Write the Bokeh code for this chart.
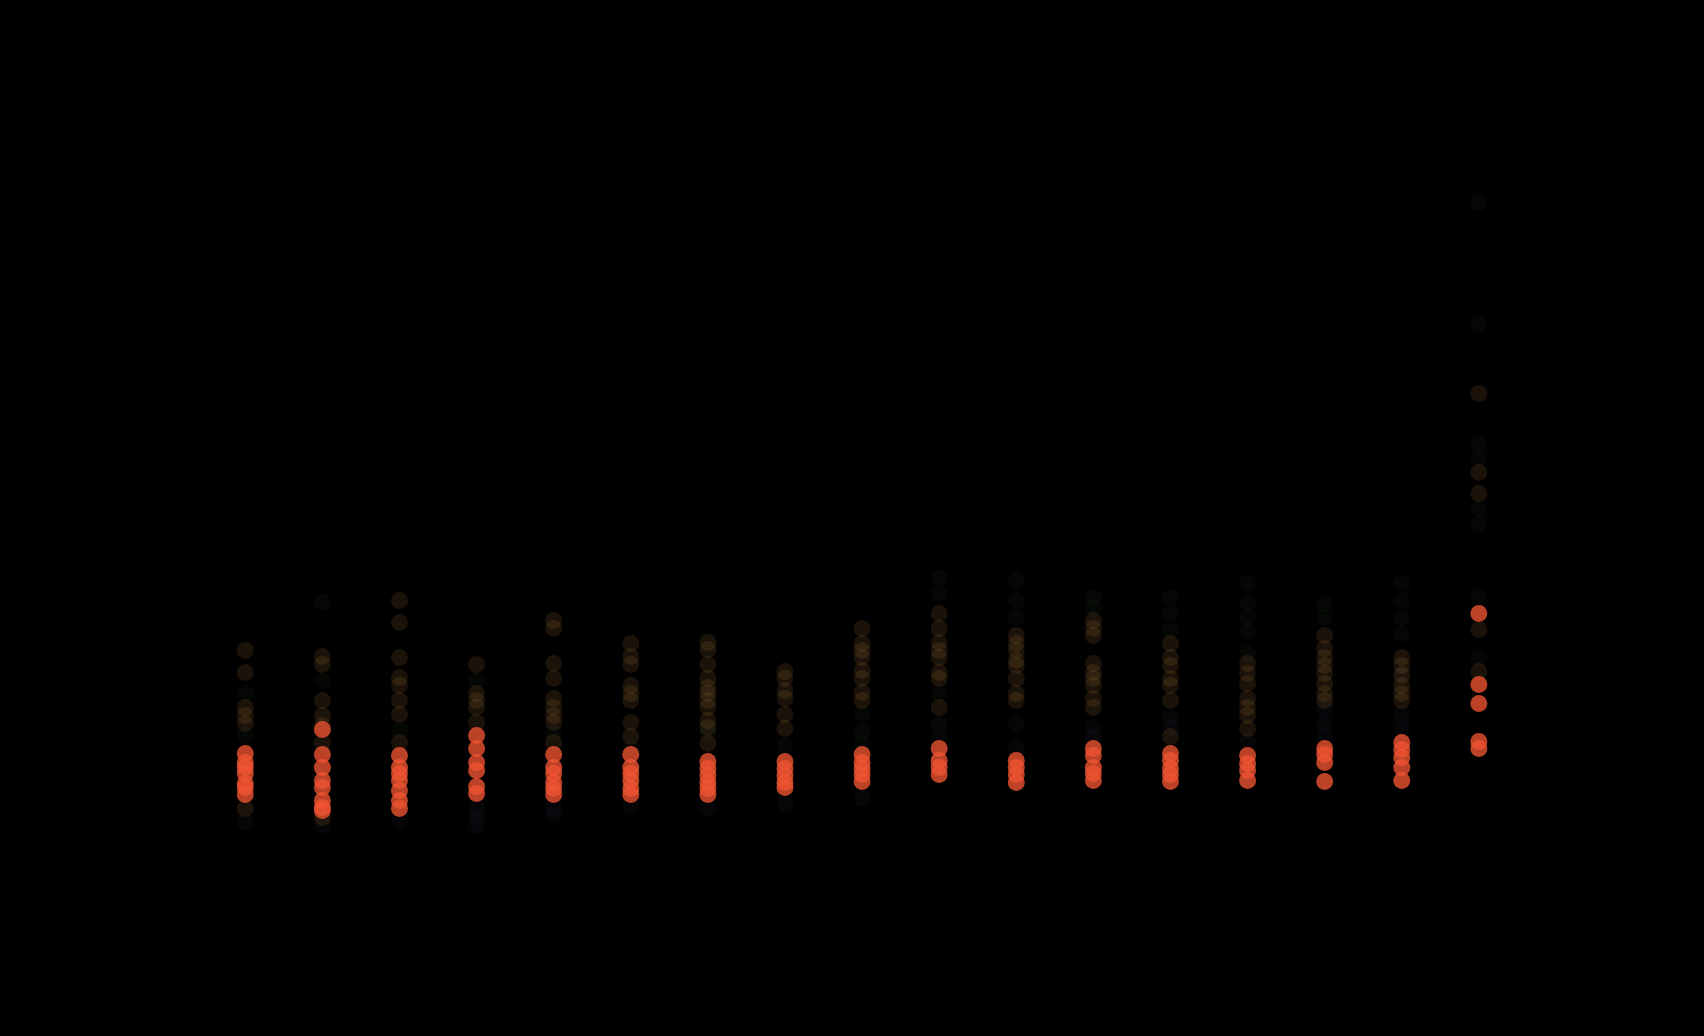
from bokeh.plotting import figure
from bokeh.models import Range1d, ColumnDataSource
from bokeh.embed import file_html
from bokeh.resources import INLINE

categories = list(range(1, 18))

red_values = [
    [27.5, 26.6, 26.1, 25.5, 24.5, 24.1, 23.4],
    [29.9, 27.4, 26.1, 24.8, 24.1, 22.8, 22.1, 21.8],
    [27.3, 26.1, 25.5, 24.8, 23.8, 22.8, 22.0],
    [29.3, 28.0, 26.6, 25.8, 24.2, 23.5],
    [27.4, 26.1, 25.5, 24.6, 24.0, 23.4],
    [27.4, 26.1, 25.5, 24.8, 24.0, 23.4],
    [26.7, 26.0, 25.3, 24.6, 24.0, 23.4],
    [26.7, 26.0, 25.3, 24.6, 24.1],
    [27.4, 26.6, 26.0, 25.4, 24.7],
    [28.0, 26.8, 26.1, 25.4],
    [26.8, 26.1, 25.4, 24.6],
    [28.0, 27.3, 26.1, 25.5, 24.8],
    [27.5, 26.8, 26.0, 25.4, 24.7],
    [27.3, 26.5, 25.8, 24.8],
    [28.0, 27.4, 26.6, 24.7],
    [28.6, 27.9, 27.1, 26.1, 24.8],
    [41.5, 34.4, 32.5, 28.7, 28.0],
]

brown_values = [
    [37.8, 35.6, 32.1, 31.3, 30.5, 22.0],
    [37.2, 36.4, 32.8, 31.3, 30.3, 28.6, 21.1],
    [42.8, 40.6, 37.1, 35.1, 34.3, 32.8, 31.4, 28.6],
    [36.4, 33.5, 32.8, 32.1, 30.6],
    [40.8, 40.0, 36.5, 35.0, 33.0, 32.1, 31.3, 30.6, 28.6],
    [38.5, 37.2, 36.4, 34.3, 33.5, 32.8, 30.6, 29.2],
    [38.6, 37.9, 36.4, 35.0, 34.1, 33.5, 32.8, 32.1, 30.8, 30.1, 28.5],
    [35.7, 35.0, 33.8, 33.0, 31.4, 30.0],
    [40.0, 38.5, 37.8, 37.1, 35.8, 35.0, 33.6, 32.8],
    [41.5, 40.0, 38.6, 37.8, 37.1, 35.6, 35.0, 32.1],
    [39.3, 38.5, 37.8, 36.8, 36.3, 35.0, 33.5, 32.8],
    [40.8, 40.0, 39.3, 36.5, 35.6, 35.0, 34.3, 33.0, 32.1],
    [38.5, 37.1, 36.3, 35.0, 34.3, 32.8, 29.2],
    [36.5, 35.5, 34.5, 33.0, 32.1, 31.3, 30.0],
    [39.3, 38.0, 37.1, 36.3, 35.5, 34.5, 33.5, 32.8],
    [37.1, 36.3, 35.3, 34.3, 33.5, 32.8],
    [63.5, 55.6, 53.5, 39.9, 35.7],
]

green_values = [
    [33.5, 29.3],
    [42.6, 34.8],
    [29.8],
    [34.8],
    [29.5],
    [28.0],
    [29.5],
    [28.3],
    [31.5, 29.8, 28.5],
    [45.1, 43.5, 33.5, 30.5],
    [44.8, 42.8, 41.1],
    [43.1, 42.1],
    [43.1, 41.5, 39.8],
    [44.5, 42.5, 41.1, 39.8, 37.5],
    [42.5, 41.1],
    [44.5, 42.8, 41.1, 39.5],
    [82.6, 70.5, 58.5, 52.0, 50.5, 43.1],
]

purple_values = [
    [20.6],
    [20.3],
    [20.8],
    [22.0, 21.1, 20.3],
    [22.1, 21.3],
    [22.3],
    [22.0],
    [22.5],
    [23.0],
    [29.1],
    [30.5, 28.1],
    [30.1, 29.1],
    [31.1, 30.1],
    [28.8],
    [32.1, 30.6, 29.3],
    [35.5, 31.5, 30.1],
    [57.1, 37.1],
]


def flatten(values):
    xs, ys = [], []
    for cat, vals in zip(categories, values):
        for v in vals:
            xs.append(cat)
            ys.append(v)
    return ColumnDataSource(dict(x=xs, y=ys))


p = figure(width=1688, height=1020, output_backend="svg", toolbar_location=None,
           x_range=Range1d(-2.175, 19.719), y_range=Range1d(0.8, 102.8),
           x_axis_location=None, y_axis_location=None, min_border=0)
p.background_fill_color = "#000000"
p.border_fill_color = "#000000"
p.outline_line_color = None
p.xgrid.visible = False
p.ygrid.visible = False

p.scatter("x", "y", source=flatten(green_values), size=17,
          fill_color="#3c7a3c", fill_alpha=0.06, line_color=None)
p.scatter("x", "y", source=flatten(purple_values), size=17,
          fill_color="#6a5a8a", fill_alpha=0.06, line_color=None)
p.scatter("x", "y", source=flatten(brown_values), size=17,
          fill_color="#b87f3e", fill_alpha=0.15, line_color=None)
p.scatter("x", "y", source=flatten(red_values), size=17,
          fill_color="#f05532", fill_alpha=0.78, line_color=None)

html = file_html(p, INLINE)
html = html.replace("</head>", "<style>html,body{background:#000000;}</style></head>")
open("out.html", "w").write(html)
